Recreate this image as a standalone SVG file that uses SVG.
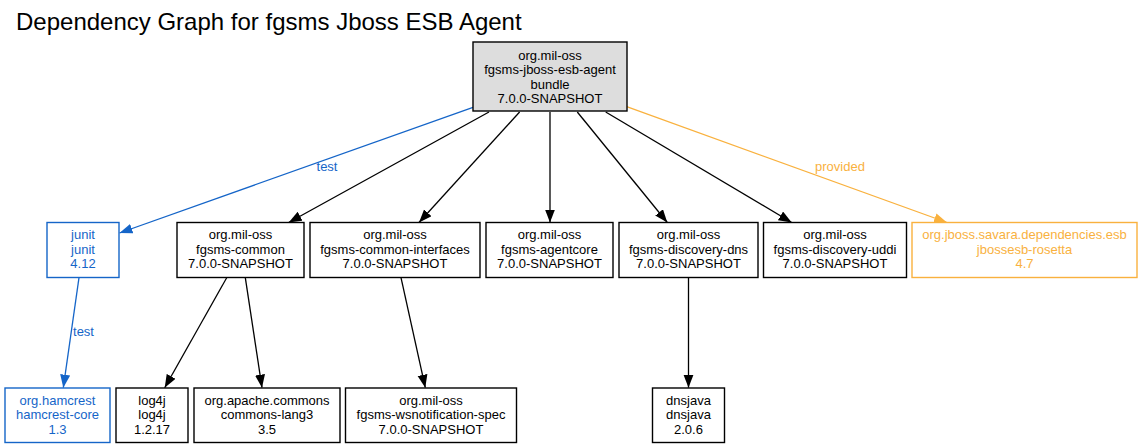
<svg xmlns="http://www.w3.org/2000/svg" width="1143" height="448" viewBox="0 0 1143 448">
<style>
text{font-family:"Liberation Sans",Arial,Helvetica,sans-serif;font-size:13px;text-anchor:middle}
.title{font-size:24px;text-anchor:start;fill:#000}
.box{fill:#fff;stroke:#000;stroke-width:1.4}
.root{fill:#dddddd}
.blue .box{stroke:#1565c8}
.blue text{fill:#1565c8}
.orange .box{stroke:#f9b13e}
.orange text{fill:#f9b13e}
.e{fill:none;stroke:#000;stroke-width:1.3}
.eb{stroke:#1565c8}
.eo{stroke:#f9b13e}
.lb{fill:#1565c8}
.lo{fill:#f9b13e}
</style>
<defs>
<marker id="ak" markerUnits="userSpaceOnUse" markerWidth="14" markerHeight="11" refX="13" refY="5" orient="auto"><path d="M0,0 L13,5 L0,10 z" fill="#000"/></marker>
<marker id="ab" markerUnits="userSpaceOnUse" markerWidth="14" markerHeight="11" refX="13" refY="5" orient="auto"><path d="M0,0 L13,5 L0,10 z" fill="#1565c8"/></marker>
<marker id="ao" markerUnits="userSpaceOnUse" markerWidth="14" markerHeight="11" refX="13" refY="5" orient="auto"><path d="M0,0 L13,5 L0,10 z" fill="#f9b13e"/></marker>
</defs>
<rect width="1143" height="448" fill="#fff"/>
<text class="title" x="16" y="30">Dependency Graph for fgsms Jboss ESB Agent</text>

<g id="connectors">
<line class="e eb" x1="473" y1="107.3" x2="119.5" y2="233" marker-end="url(#ab)"/>
<line class="e" x1="489" y1="112" x2="288.7" y2="222.5" marker-end="url(#ak)"/>
<line class="e" x1="519.6" y1="112" x2="419" y2="222.5" marker-end="url(#ak)"/>
<line class="e" x1="550" y1="112" x2="550" y2="222.5" marker-end="url(#ak)"/>
<line class="e" x1="577.3" y1="112" x2="667.3" y2="222.5" marker-end="url(#ak)"/>
<line class="e" x1="605.7" y1="112" x2="791.7" y2="222.5" marker-end="url(#ak)"/>
<line class="e eo" x1="626.7" y1="106.7" x2="947" y2="222.5" marker-end="url(#ao)"/>
<line class="e eb" x1="79" y1="277.7" x2="63.3" y2="387.7" marker-end="url(#ab)"/>
<line class="e" x1="226.7" y1="277.7" x2="164.7" y2="387.7" marker-end="url(#ak)"/>
<line class="e" x1="245.3" y1="277.7" x2="262" y2="387.7" marker-end="url(#ak)"/>
<line class="e" x1="401" y1="277.7" x2="425.3" y2="387.7" marker-end="url(#ak)"/>
<line class="e" x1="688.5" y1="277.7" x2="688.5" y2="387.7" marker-end="url(#ak)"/>
<text class="lb" x="327" y="170.5">test</text>
<text class="lo" x="840" y="170.5">provided</text>
<text class="lb" x="83.5" y="336">test</text>
</g>

<g id="root">
<rect class="box root" x="473" y="42" width="154" height="69"/>
<text x="550" y="59.5">org.mil-oss</text>
<text x="550" y="74">fgsms-jboss-esb-agent</text>
<text x="550" y="88.5">bundle</text>
<text x="550" y="103">7.0.0-SNAPSHOT</text>
</g>

<g id="junit" class="blue">
<rect class="box" x="47" y="222.5" width="72" height="55"/>
<text x="83" y="239">junit</text>
<text x="83" y="253.5">junit</text>
<text x="83" y="268">4.12</text>
</g>

<g id="fgsms-common">
<rect class="box" x="177" y="222.5" width="127" height="55"/>
<text x="240.5" y="239">org.mil-oss</text>
<text x="240.5" y="253.5">fgsms-common</text>
<text x="240.5" y="268">7.0.0-SNAPSHOT</text>
</g>

<g id="fgsms-common-interfaces">
<rect class="box" x="310" y="222.5" width="170" height="55"/>
<text x="395" y="239">org.mil-oss</text>
<text x="395" y="253.5">fgsms-common-interfaces</text>
<text x="395" y="268">7.0.0-SNAPSHOT</text>
</g>

<g id="fgsms-agentcore">
<rect class="box" x="486" y="222.5" width="127" height="55"/>
<text x="549.5" y="239">org.mil-oss</text>
<text x="549.5" y="253.5">fgsms-agentcore</text>
<text x="549.5" y="268">7.0.0-SNAPSHOT</text>
</g>

<g id="fgsms-discovery-dns">
<rect class="box" x="619" y="222.5" width="139" height="55"/>
<text x="688.5" y="239">org.mil-oss</text>
<text x="688.5" y="253.5">fgsms-discovery-dns</text>
<text x="688.5" y="268">7.0.0-SNAPSHOT</text>
</g>

<g id="fgsms-discovery-uddi">
<rect class="box" x="763.5" y="222.5" width="143" height="55"/>
<text x="835" y="239">org.mil-oss</text>
<text x="835" y="253.5">fgsms-discovery-uddi</text>
<text x="835" y="268">7.0.0-SNAPSHOT</text>
</g>

<g id="jbossesb-rosetta" class="orange">
<rect class="box" x="912" y="222.5" width="225" height="55"/>
<text x="1024.5" y="239">org.jboss.savara.dependencies.esb</text>
<text x="1024.5" y="253.5">jbossesb-rosetta</text>
<text x="1024.5" y="268">4.7</text>
</g>

<g id="hamcrest-core" class="blue">
<rect class="box" x="5" y="388" width="105" height="54.5"/>
<text x="57.5" y="404.5">org.hamcrest</text>
<text x="57.5" y="419">hamcrest-core</text>
<text x="57.5" y="433.5">1.3</text>
</g>

<g id="log4j">
<rect class="box" x="116" y="388" width="72" height="54.5"/>
<text x="152" y="404.5">log4j</text>
<text x="152" y="419">log4j</text>
<text x="152" y="433.5">1.2.17</text>
</g>

<g id="commons-lang3">
<rect class="box" x="194" y="388" width="146" height="54.5"/>
<text x="267" y="404.5">org.apache.commons</text>
<text x="267" y="419">commons-lang3</text>
<text x="267" y="433.5">3.5</text>
</g>

<g id="fgsms-wsnotification-spec">
<rect class="box" x="345.5" y="388" width="171" height="54.5"/>
<text x="431" y="404.5">org.mil-oss</text>
<text x="431" y="419">fgsms-wsnotification-spec</text>
<text x="431" y="433.5">7.0.0-SNAPSHOT</text>
</g>

<g id="dnsjava">
<rect class="box" x="652.5" y="388" width="72" height="54.5"/>
<text x="688.5" y="404.5">dnsjava</text>
<text x="688.5" y="419">dnsjava</text>
<text x="688.5" y="433.5">2.0.6</text>
</g>
</svg>
